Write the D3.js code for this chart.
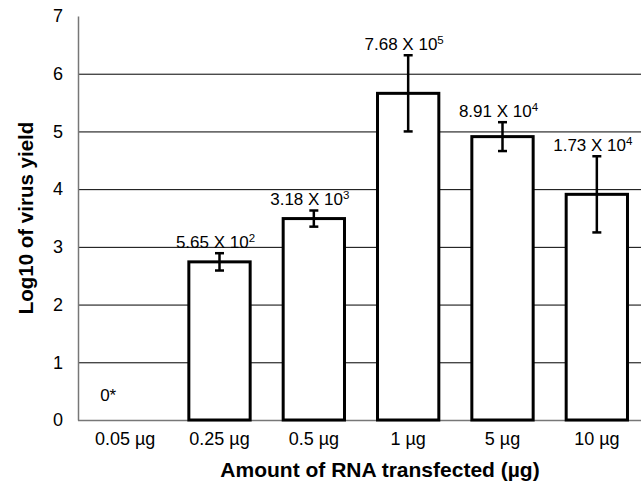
<!DOCTYPE html>
<html><head><meta charset="utf-8">
<script src="https://cdn.jsdelivr.net/npm/d3@7"></script>
<style>
body{margin:0;background:#fff;}
text{font-family:"Liberation Sans",Arial,sans-serif;fill:#000;}
</style></head>
<body><svg id="c" width="641" height="487"></svg>
<script>
const categories = ["0.05 µg","0.25 µg","0.5 µg","1 µg","5 µg","10 µg"];
const values = [0, 2.74, 3.49, 5.66, 4.91, 3.91];
const errors = [0, 0.15, 0.14, 0.66, 0.25, 0.66];
const labelMantissa = ["0*","5.65 X 10","3.18 X 10","7.68 X 10","8.91 X 10","1.73 X 10"];
const labelExponent = ["","2","3","5","4","4"];
const yTicks = [0,1,2,3,4,5,6,7];

const svg = d3.select("#c");
const m = {left:78, right:644, top:16, bottom:420};
const x = d3.scaleBand().domain(categories).range([m.left, m.right]).padding(0);
const y = d3.scaleLinear().domain([0,7]).range([m.bottom, m.top]);
const bw = x.bandwidth()*0.65;

// gridlines
svg.append("g").selectAll("line").data(yTicks.filter(t=>t>0 && t<7)).join("line")
  .attr("x1", m.left).attr("x2", 641).attr("y1", d=>y(d)+0.5).attr("y2", d=>y(d)+0.5)
  .attr("stroke","#000").attr("stroke-width",1);

// y axis
const ya = svg.append("g").attr("transform",`translate(${m.left},0)`)
  .call(d3.axisLeft(y).tickValues(yTicks).tickSize(0).tickPadding(15).tickFormat(d3.format("d")));
ya.select(".domain").attr("stroke","#777").attr("stroke-width",1.5);
ya.selectAll("text").style("font-size","18px").style("font-family","Liberation Sans, Arial");

// x axis
const xa = svg.append("g").attr("transform",`translate(0,${m.bottom})`)
  .call(d3.axisBottom(x).tickSize(0).tickPadding(12));
xa.select(".domain").attr("stroke","#777").attr("stroke-width",1.5).attr("d",`M${m.left},0.5H641`);
xa.selectAll("text").style("font-size","18px").style("font-family","Liberation Sans, Arial");

// bars
const idx = d3.range(categories.length).filter(i=>values[i]>0);
svg.append("g").selectAll("rect").data(idx).join("rect")
  .attr("x", i=>x(categories[i])+x.bandwidth()/2-bw/2)
  .attr("y", i=>y(values[i]))
  .attr("width", bw)
  .attr("height", i=>y(0)-y(values[i]))
  .attr("fill","#fff").attr("stroke","#000").attr("stroke-width",3);

// error bars
const eg = svg.append("g").attr("stroke","#000").attr("stroke-width",2.5);
idx.forEach(i=>{
  const cx = x(categories[i])+x.bandwidth()/2;
  eg.append("line").attr("x1",cx).attr("x2",cx).attr("y1",y(values[i]+errors[i])).attr("y2",y(values[i]-errors[i]));
  [values[i]+errors[i], values[i]-errors[i]].forEach(v=>{
    eg.append("line").attr("x1",cx-4.5).attr("x2",cx+4.5).attr("y1",y(v)).attr("y2",y(v));
  });
});

// labels
categories.forEach((c,i)=>{
  const cx = x(c)+x.bandwidth()/2;
  if(values[i]===0){
    svg.append("text").attr("x",cx-17).attr("y",y(0)-19).attr("text-anchor","middle")
      .style("font-size","17px").text(labelMantissa[i]);
    return;
  }
  const t = svg.append("text").attr("x",cx-4).attr("y",y(values[i]+errors[i])-5)
    .attr("text-anchor","middle").style("font-size","17px");
  t.append("tspan").text(labelMantissa[i]);
  t.append("tspan").attr("dy",-6).style("font-size","11.5px").text(labelExponent[i]);
});

// axis titles
svg.append("text").attr("x",380).attr("y",477).attr("text-anchor","middle")
  .style("font-size","21px").style("font-weight","bold").text("Amount of RNA transfected (µg)");
svg.append("text").attr("transform","translate(33,218) rotate(-90)").attr("text-anchor","middle")
  .style("font-size","20.5px").style("font-weight","bold").text("Log10 of virus yield");
</script></body></html>
